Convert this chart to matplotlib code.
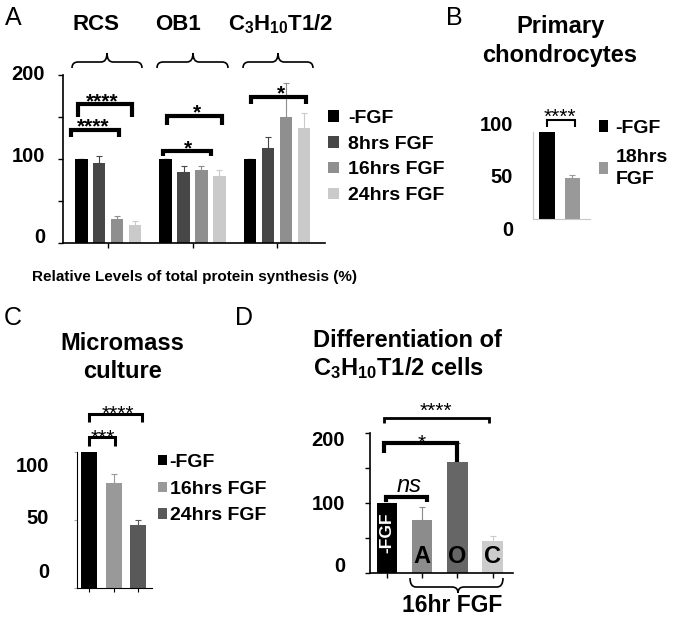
import numpy as np
import matplotlib.pyplot as plt
from matplotlib.path import Path
from matplotlib.patches import PathPatch
from matplotlib.transforms import ScaledTranslation

plt.rcParams['font.family'] = ['Liberation Sans', 'DejaVu Sans']
plt.rcParams['font.weight'] = 'bold'
plt.rcParams['mathtext.fontset'] = 'custom'
plt.rcParams['mathtext.rm'] = 'Liberation Sans:bold'
plt.rcParams['mathtext.it'] = 'Liberation Sans:italic:bold'
plt.rcParams['mathtext.bf'] = 'Liberation Sans:bold'

# A: relative protein synthesis in three cell lines
a_groups = ['RCS', 'OB1', r'C$_{3}$H$_{10}$T1/2']
a_series = ['-FGF', '8hrs FGF', '16hrs FGF', '24hrs FGF']
a_nofgf = [100, 100, 100]
a_8h = [95, 85, 113]
a_16h = [28, 87, 150]
a_24h = [22, 80, 137]
a_nofgf_err = [0, 0, 0]
a_8h_err = [9, 7, 13]
a_16h_err = [4, 5, 41]
a_24h_err = [4, 7, 18]
a_colors = ['#000000', '#474747', '#8f8f8f', '#cacaca']

# B: primary chondrocytes
b_series = ['-FGF', '18hrs\nFGF']
b_vals = [100, 47]
b_err = [0, 4]
b_colors = ['#000000', '#999999']

# C: micromass culture
c_series = ['-FGF', '16hrs FGF', '24hrs FGF']
c_vals = [100, 77, 46]
c_err = [0, 7, 4]
c_colors = ['#000000', '#999999', '#595959']

# D: differentiation of C3H10T1/2 cells
d_labels = ['-FGF', 'A', 'O', 'C']
d_vals = [100, 76, 158, 46]
d_err = [0, 18, 28, 7]
d_colors = ['#000000', '#8c8c8c', '#666666', '#cccccc']

W, H = 677, 618
fig = plt.figure(figsize=(W / 100, H / 100), dpi=100)


def box(x0, y0, x1, y1):
    # pixel box, origin top-left -> figure fraction
    return [x0 / W, 1 - y1 / H, (x1 - x0) / W, (y1 - y0) / H]


def style(ax, lw=1.2, color='k'):
    for s in ['top', 'right']:
        ax.spines[s].set_visible(False)
    for s in ['left', 'bottom']:
        ax.spines[s].set_linewidth(lw)
        ax.spines[s].set_color(color)
    ax.set_facecolor('none')


def shift_labels(ax, dys):
    # nudge y tick labels by dy pixels (down is positive)
    for lab, dy in zip(ax.get_yticklabels(), dys):
        lab.set_transform(lab.get_transform() + ScaledTranslation(0, -dy / 100, fig.dpi_scale_trans))


def bracket(ax, x0, x1, y, yl, yr, lw=3):
    ax.plot([x0, x0, x1, x1], [yl, y, y, yr], color='k', lw=lw, clip_on=False,
            solid_joinstyle='miter', solid_capstyle='butt')


def stars(ax, x, y, s, dy=-2, size=15, **kw):
    ax.annotate(s, (x, y), xytext=(0, dy), textcoords='offset points', ha='center',
                va='baseline', fontsize=size, annotation_clip=False, **kw)


ekw = dict(lw=0.8, capsize=2.5, capthick=0.8)
leg_kw = dict(bbox_transform=fig.transFigure, loc='upper left', frameon=False,
              prop={'size': 14, 'weight': 'bold'}, borderpad=0, borderaxespad=0)

# ---- A ----
ax_a = fig.add_axes(box(63, 75, 325, 243))
gx = np.arange(len(a_groups))
a_vals = [a_nofgf, a_8h, a_16h, a_24h]
a_errs = [a_nofgf_err, a_8h_err, a_16h_err, a_24h_err]
for i in range(4):
    ax_a.bar(gx + (i - 1.5) * 0.212, a_vals[i], 0.15, color=a_colors[i], label=a_series[i],
             yerr=[np.zeros(3), a_errs[i]], ecolor=a_colors[i], error_kw=ekw)
ax_a.set_xlim(-0.533, 2.568)
ax_a.set_ylim(0, 200)
ax_a.set_xticks(gx)
ax_a.set_xticklabels([])
ax_a.set_yticks([0, 100, 200])
ax_a.set_yticks([50, 150], minor=True)
ax_a.tick_params(axis='both', which='both', direction='out', length=3.6, width=1)
ax_a.tick_params(axis='y', labelsize=14.5, pad=9.4)
style(ax_a)
ax_a.set_xlabel('Relative Levels of total protein synthesis (%)', fontsize=11,
                fontweight='bold', labelpad=12)
shift_labels(ax_a, [-8, -5, -2])
ax_a.legend(bbox_to_anchor=(328 / W, 1 - 110 / H), handlelength=0.55, handleheight=0.55,
            handletextpad=0.5, labelspacing=0.45, **leg_kw)
bracket(ax_a, -0.36, 0.28, 165, 150, 150)
stars(ax_a, -0.065, 165, '****')
bracket(ax_a, -0.435, 0.13, 135, 126.5, 126.5)
stars(ax_a, -0.18, 135, '****')
bracket(ax_a, 0.694, 1.353, 151.5, 140, 140)
stars(ax_a, 1.05, 151.5, '*')
bracket(ax_a, 0.647, 1.224, 109, 103, 103)
stars(ax_a, 0.95, 109, '*')
bracket(ax_a, 1.694, 2.341, 174, 165, 165)
stars(ax_a, 2.05, 174, '*')

# ---- B ----
ax_b = fig.add_axes(box(533, 132, 590, 219))
for i in range(len(b_vals)):
    ax_b.bar(i, b_vals[i], 0.6, color=b_colors[i], label=b_series[i],
             yerr=[[0], [b_err[i]]], ecolor=b_colors[i], error_kw=ekw)
ax_b.set_xlim(-0.55, 1.69)
ax_b.set_ylim(0, 100)
ax_b.set_xticks([])
ax_b.set_yticks([0, 50, 100])
ax_b.tick_params(axis='y', length=0, labelsize=14.5, pad=14.4)
style(ax_b, lw=0.8, color='#c8c8c8')
shift_labels(ax_b, [9, 0, -9])
leg_b = ax_b.legend(bbox_to_anchor=(599 / W, 1 - 120 / H), handlelength=0.45, handleheight=0.55,
                    handletextpad=0.4, labelspacing=0.6, **leg_kw)
leg_b.get_texts()[1].set_linespacing(1.4)
bracket(ax_b, 0, 1.1, 114, 106, 106, lw=1.5)
stars(ax_b, 0.51, 114, '****', fontweight='normal')

# ---- C ----
ax_c = fig.add_axes(box(77, 452, 152, 588))
for i in range(len(c_vals)):
    ax_c.bar(i, c_vals[i], 0.65, color=c_colors[i], label=c_series[i],
             yerr=[[0], [c_err[i]]], ecolor=c_colors[i], error_kw=ekw)
ax_c.set_xlim(-0.49, 2.55)
ax_c.set_ylim(0, 100)
ax_c.set_xticks(range(3))
ax_c.set_xticklabels([])
ax_c.tick_params(axis='x', direction='out', length=3, width=0.8)
ax_c.set_yticks([0, 50, 100])
ax_c.tick_params(axis='y', direction='out', length=2, color='#aaaaaa', labelsize=14.5, pad=18)
style(ax_c, lw=0.8)
shift_labels(ax_c, [-18, -3, 13])
ax_c.legend(bbox_to_anchor=(158 / W, 1 - 454 / H), handlelength=0.45, handleheight=0.45,
            handletextpad=0.15, labelspacing=0.5, **leg_kw)
bracket(ax_c, 0, 1.05, 111, 104.4, 104.4, lw=2.2)
stars(ax_c, 0.55, 111, '***', dy=-5, fontweight='normal')
bracket(ax_c, 0, 2.15, 128, 122, 122, lw=2.2)
stars(ax_c, 1.17, 128, '****', dy=-4, fontweight='normal')

# ---- D ----
ax_d = fig.add_axes(box(370, 433, 513, 573))
for i in range(len(d_vals)):
    ax_d.bar(i, d_vals[i], 0.58, color=d_colors[i],
             yerr=[[0], [d_err[i]]], ecolor=d_colors[i], error_kw=ekw)
ax_d.set_xlim(-0.48, 3.58)
ax_d.set_ylim(0, 200)
ax_d.set_xticks(range(4))
ax_d.set_xticklabels([])
ax_d.set_yticks([0, 100, 200])
ax_d.set_yticks([50, 150], minor=True)
ax_d.tick_params(axis='both', which='both', direction='out', length=3.6, width=1)
ax_d.tick_params(axis='y', labelsize=14.5, pad=14.4)
style(ax_d)
shift_labels(ax_d, [-8, 0, 5])
ax_d.text(0, 58, d_labels[0], rotation=90, color='white', ha='center', va='center', fontsize=12.5)
for i in range(1, 4):
    ax_d.text(i, 23, d_labels[i], ha='center', va='center', fontsize=17)
bracket(ax_d, -0.03, 1.14, 108.6, 101, 101, lw=3)
ax_d.annotate('ns', (0.63, 108.6), xytext=(0, 3.6), textcoords='offset points', ha='center',
              va='baseline', fontsize=17, fontstyle='italic', fontweight='normal')
bracket(ax_d, -0.085, 1.99, 186, 171, 159, lw=3)
stars(ax_d, 0.99, 186, '*', dy=-4, fontweight='normal')
bracket(ax_d, -0.085, 2.9, 221, 214, 214, lw=2)
stars(ax_d, 1.39, 221, '****', dy=0.7, fontweight='normal')

# ---- overlay for titles, letters and braces (pixel coords) ----
ov = fig.add_axes([0, 0, 1, 1])
ov.set_xlim(0, W)
ov.set_ylim(H, 0)
ov.axis('off')


def brace(x0, x1, xt, ym, ye, yt, r=6):
    verts = [(x0, ye), (x0, ym), (x0 + r, ym), (xt - r, ym), (xt, ym), (xt, yt),
             (xt, ym), (xt + r, ym), (x1 - r, ym), (x1, ym), (x1, ye)]
    codes = [Path.MOVETO, Path.CURVE3, Path.CURVE3, Path.LINETO, Path.CURVE3, Path.CURVE3,
             Path.CURVE3, Path.CURVE3, Path.LINETO, Path.CURVE3, Path.CURVE3]
    ov.add_patch(PathPatch(Path(verts, codes), fill=False, lw=1.2, color='k'))


for letter, x, y in [('A', 13, 25), ('B', 454, 25), ('C', 13, 325), ('D', 244, 325)]:
    ov.text(x, y, letter, ha='center', va='baseline', fontsize=18, fontweight='normal')

for name, x in zip(a_groups, [96, 178, 281]):
    ov.text(x, 30, name, ha='center', va='baseline', fontsize=16)
brace(72, 142, 107, 62, 68, 53)
brace(157, 228, 193, 62, 68, 53)
brace(243, 313, 278, 62, 68, 53)

ov.text(560, 33, 'Primary', ha='center', va='baseline', fontsize=17)
ov.text(560, 62, 'chondrocytes', ha='center', va='baseline', fontsize=17)
ov.text(122, 350, 'Micromass', ha='center', va='baseline', fontsize=17)
ov.text(122, 378, 'culture', ha='center', va='baseline', fontsize=17)
ov.text(313, 347, 'Differentiation of', ha='left', va='baseline', fontsize=17)
ov.text(313, 375, r'C$_{3}$H$_{10}$T1/2 cells', ha='left', va='baseline', fontsize=17)

brace(410, 503, 458, 587, 578, 593)
ov.text(452, 612, '16hr FGF', ha='center', va='baseline', fontsize=16.5)

fig.savefig('out.png', dpi=100)
